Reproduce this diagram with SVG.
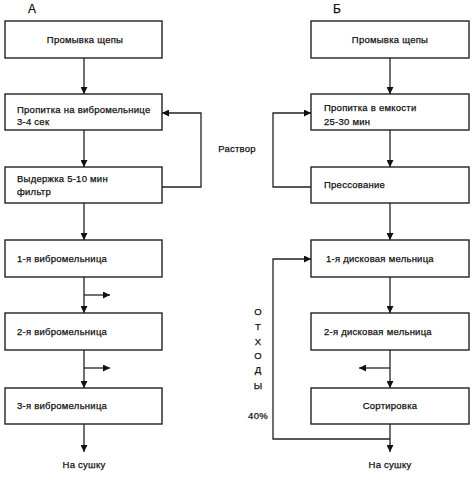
<svg xmlns="http://www.w3.org/2000/svg" width="474" height="478" viewBox="0 0 474 478">
<defs>
<marker id="ah" viewBox="0 0 10 10" refX="10" refY="5" markerWidth="7" markerHeight="7" markerUnits="userSpaceOnUse" orient="auto">
<path d="M0,0 L10,5 L0,10 z" fill="#111"/>
</marker>
<style>
rect{fill:#fff;stroke:#222;stroke-width:1.4}
text{font-family:"Liberation Sans",Arial,sans-serif;font-size:9.5px;letter-spacing:0.25px;fill:#111;stroke:#111;stroke-width:0.25}
.c{text-anchor:middle}
.h{font-size:12px;letter-spacing:0}
#connectors path{fill:none;stroke:#222;stroke-width:1.3}
.a{marker-end:url(#ah)}
</style>
</defs>
<rect x="0" y="0" width="474" height="478" style="fill:#fff;stroke:none"/>
<text class="c h" x="32" y="13">А</text>
<text class="c h" x="337" y="13">Б</text>
<g id="a1"><rect x="5" y="21" width="157" height="37"/><text class="c" x="85" y="43">Промывка щепы</text></g>
<g id="a2"><rect x="5" y="94" width="157" height="36"/><text x="17" y="113">Пропитка на вибромельнице</text><text x="17" y="125">3-4 сек</text></g>
<g id="a3"><rect x="5" y="167" width="157" height="36"/><text x="17" y="182">Выдержка 5-10 мин</text><text x="17" y="195">фильтр</text></g>
<g id="a4"><rect x="5" y="240" width="157" height="37"/><text x="17" y="262">1-я вибромельница</text></g>
<g id="a5"><rect x="5" y="313" width="157" height="37"/><text x="17" y="335">2-я вибромельница</text></g>
<g id="a6"><rect x="5" y="388" width="157" height="36"/><text x="17" y="409">3-я вибромельница</text></g>
<g id="a7"><text class="c" x="84" y="468">На сушку</text></g>
<g id="b1"><rect x="311" y="21" width="158" height="37"/><text class="c" x="390" y="43">Промывка щепы</text></g>
<g id="b2"><rect x="311" y="94" width="158" height="36"/><text x="324" y="111">Пропитка в емкости</text><text x="324" y="125">25-30 мин</text></g>
<g id="b3"><rect x="311" y="167" width="158" height="36"/><text x="324" y="188">Прессование</text></g>
<g id="b4"><rect x="311" y="240" width="158" height="37"/><text x="326" y="262">1-я дисковая мельница</text></g>
<g id="b5"><rect x="311" y="313" width="158" height="37"/><text x="324" y="335">2-я дисковая мельница</text></g>
<g id="b6"><rect x="311" y="388" width="158" height="36"/><text class="c" x="390" y="409">Сортировка</text></g>
<g id="b7"><text class="c" x="390" y="468">На сушку</text></g>
<g id="labels">
<text class="c" x="237" y="152">Раствор</text>
<text class="c" x="258" y="315">О</text>
<text class="c" x="258" y="330">Т</text>
<text class="c" x="258" y="345">Х</text>
<text class="c" x="258" y="359">О</text>
<text class="c" x="258" y="373">Д</text>
<text class="c" x="258" y="389">Ы</text>
<text class="c" x="258" y="419">40%</text>
</g>
<g id="connectors">
<path class="a" d="M84,58 V94"/>
<path class="a" d="M84,130 V167"/>
<path class="a" d="M84,203 V240"/>
<path class="a" d="M84,277 V313"/>
<path class="a" d="M84,350 V388"/>
<path class="a" d="M84,424 V452"/>
<path class="a" d="M84,295 H110"/>
<path class="a" d="M84,368 H110"/>
<path class="a" d="M162,187 H201 V113 H162"/>
<path class="a" d="M390,58 V94"/>
<path class="a" d="M390,130 V167"/>
<path class="a" d="M390,203 V240"/>
<path class="a" d="M390,277 V313"/>
<path class="a" d="M390,350 V388"/>
<path class="a" d="M390,424 V452"/>
<path class="a" d="M390,368 H359"/>
<path class="a" d="M311,187 H273 V113 H311"/>
<path class="a" d="M390,439 H273 V259 H311"/>
</g>
</svg>
